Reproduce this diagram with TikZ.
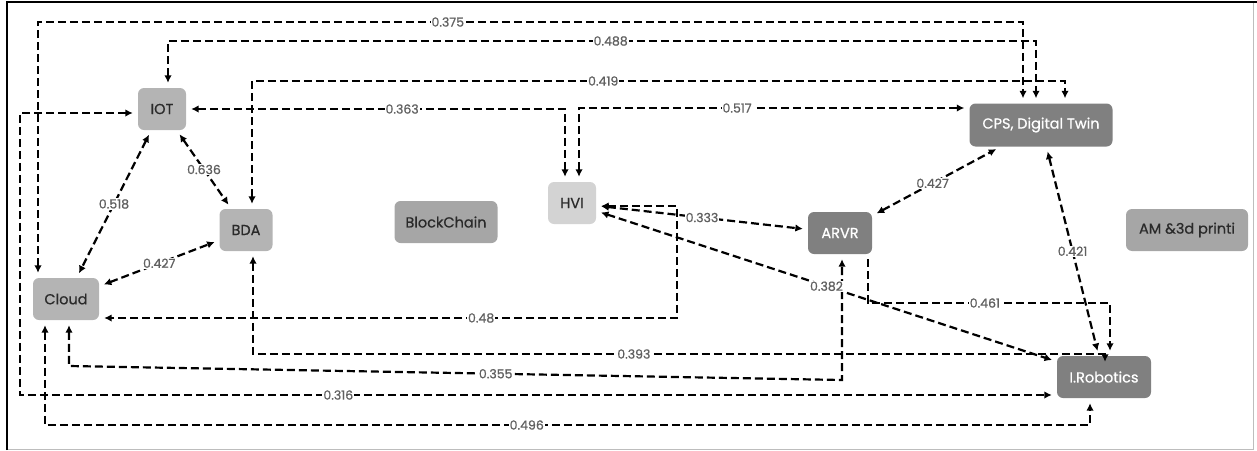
\documentclass[tikz,border=0pt]{standalone}
\usepackage{fontspec}
\setmainfont{Poppins}
\newfontfamily\boxfont{Poppins}[FakeBold=0.7]
\newfontfamily\labfont{Poppins}[FakeBold=0.8]
\usetikzlibrary{arrows.meta}

\definecolor{boxlight}{HTML}{B4B4B4}
\definecolor{boxmid}{HTML}{A6A6A6}
\definecolor{boxpale}{HTML}{D3D3D3}
\definecolor{boxdark}{HTML}{808080}
\definecolor{txtdark}{HTML}{2A2A2A}
\definecolor{labgray}{HTML}{606060}
\definecolor{edgegray}{HTML}{BDBDBD}

\begin{document}
\begin{tikzpicture}[x=1pt,y=-1pt,
  box/.style={rounded corners=6pt, minimum height=42pt, inner sep=0pt,
    font=\boxfont\fontsize{14.5}{16}\selectfont},
  lightbox/.style={box, fill=boxlight, text=txtdark},
  midbox/.style={box, fill=boxmid, text=txtdark},
  palebox/.style={box, fill=boxpale, text=txtdark},
  darkbox/.style={box, fill=boxdark, text=white},
  link/.style={draw=black, line width=2.2pt, dash pattern=on 8pt off 4pt,
    {Latex[length=7.5pt,width=7.5pt]}-{Latex[length=7.5pt,width=7.5pt]},
    shorten <=5pt, shorten >=5pt},
  onelink/.style={link, -{Latex[length=7.5pt,width=7.5pt]}},
  lab/.style={fill=white, inner sep=1pt, text=labgray,
    font=\labfont\fontsize{12.5}{14}\selectfont}
]
\useasboundingbox (0,0) rectangle (1257,450);

% frame
\draw[edgegray, line width=1pt] (1253,2) -- (1253,449) -- (7,449);
\draw[black, line width=2.5pt] (7,450) -- (7,2) -- (1257,2);

% nodes
\node[lightbox, minimum width=48pt] (iot)   at (162,109) {IOT};
\node[lightbox, minimum width=53pt] (bda)   at (246,230) {BDA};
\node[lightbox, minimum width=66pt] (cloud) at (66,299)  {Cloud};
\node[midbox,   minimum width=103pt] (blk)  at (446,222) {BlockChain};
\node[palebox,  minimum width=48pt] (hvi)   at (572,203) {HVI};
\node[darkbox,  minimum width=64pt] (arvr)  at (840,233) {ARVR};
\node[darkbox,  minimum width=143pt, minimum height=43pt] (cps) at (1041,125) {CPS, Digital Twin};
\node[midbox,   minimum width=122pt] (am)   at (1187,230) {AM \&3d printi};
\node[darkbox,  minimum width=94pt] (rob)   at (1104,377) {I.Robotics};

% routing points of the elbow connectors
\coordinate (a375) at (38,22);   \coordinate (b375) at (1023,22);
\coordinate (a488) at (168,41);  \coordinate (b488) at (1036,41);
\coordinate (a419) at (252,81);  \coordinate (b419) at (1065,81);
\coordinate (a363) at (565,109);
\coordinate (a517) at (579,108);
\coordinate (a316) at (20,113);  \coordinate (b316) at (20,395);
\coordinate (a496) at (45,425);  \coordinate (b496) at (1090,425);
\coordinate (a355) at (69,366);  \coordinate (b355) at (842,380);
\coordinate (a393) at (253,354); \coordinate (b393) at (1105,354);
\coordinate (a48)  at (677,206); \coordinate (b48)  at (677,318);
\coordinate (a461) at (868,303); \coordinate (b461) at (1110,303);

% elbow connectors
\draw[link] (a375 |- cloud.north) -- (a375) -- node[lab,pos=0.416]{0.375} (b375) -- (b375 |- cps.north);
\draw[link] (a488 |- iot.north) -- (a488) -- node[lab,pos=0.51]{0.488} (b488) -- (b488 |- cps.north);
\draw[link] (a419 |- bda.north) -- (a419) -- node[lab,pos=0.432]{0.419} (b419) -- (b419 |- cps.north);
\draw[link] (iot.east) -- node[lab,pos=0.57]{0.363} (a363) -- (a363 |- hvi.north);
\draw[link] (a517 |- hvi.north) -- (a517) -- node[lab,pos=0.405]{0.517} (a517 -| cps.west);
\draw[link] (a316 -| iot.west) -- (a316) -- (b316) -- node[lab,pos=0.307]{0.316} (b316 -| rob.west);
\draw[link] (a496 |- cloud.south) -- (a496) -- node[lab,pos=0.461]{0.496} (b496) -- (b496 |- rob.south);
\draw[link] (a355 |- cloud.south) -- (a355) -- node[lab,pos=0.552]{0.355} (b355) -- (b355 |- arvr.south);
\draw[link, shorten >=-6pt] (a393 |- bda.south) -- (a393) -- node[lab,pos=0.447]{0.393} (b393) -- (b393 |- rob.north);
\draw[link] (a48 -| hvi.east) -- (a48) -- (b48) -- node[lab,pos=0.339]{0.48} (b48 -| cloud.east);
\draw[onelink] (a461 |- arvr.south) -- (a461) -- node[lab,pos=0.483]{0.461} (b461) -- (b461 |- rob.north);

% straight connectors
\draw[link] (iot) -- node[lab]{0.636} (bda);
\draw[link] (iot) -- node[lab]{0.518} (cloud);
\draw[link] (cloud) -- node[lab]{0.427} (bda);
\draw[link] (hvi) -- node[lab]{0.333} (arvr);
\draw[link] (hvi) -- node[lab]{0.382} (rob);
\draw[link] (cps) -- node[lab]{0.421} (rob);
\draw[link] (arvr) -- node[lab,pos=0.47]{0.427} (cps);
\end{tikzpicture}
\end{document}
